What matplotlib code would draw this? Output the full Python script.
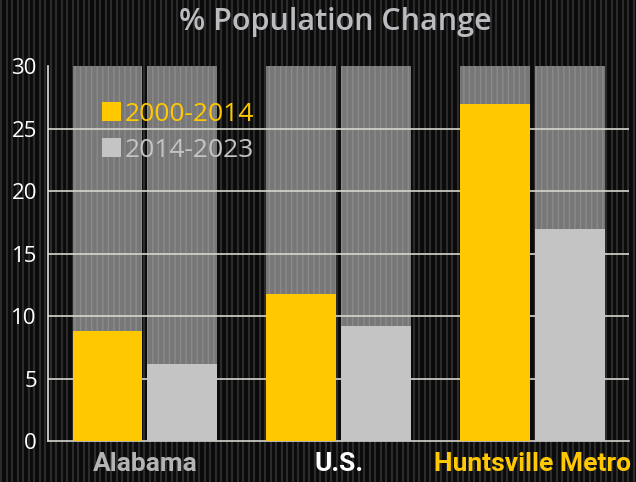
import numpy as np
import matplotlib.pyplot as plt

# data
regions = ['Alabama', 'U.S.', 'Huntsville Metro']
growth_2000_2014 = [8.8, 11.8, 27.0]
growth_2014_2023 = [6.2, 9.2, 17.0]
series_labels = ['2000-2014', '2014-2023']
y_ticks = [0, 5, 10, 15, 20, 25, 30]
y_max = 30

yellow = '#ffc800'
light = '#c4c4c4'
label_colors = ['#b4b4b4', '#ffffff', yellow]

fig = plt.figure(figsize=(6.36, 4.82), dpi=100)
fig.patch.set_facecolor('#0a0a0a')

# striped backdrop
bg = fig.add_axes([0, 0, 1, 1], zorder=-10)
bg.set_xlim(0, 636)
bg.set_ylim(0, 482)
bg.vlines(np.arange(1, 636, 5.5), 0, 482, color='#2b2b2b', lw=1.6)
bg.axis('off')

ax = fig.add_axes([0.0755, 0.085, 0.914, 0.778])
ax.set_facecolor('none')

x = np.arange(len(regions))
w = 0.36
off = 0.193

# grey "full scale" columns behind each bar
for dx in (-off, off):
    ax.bar(x + dx, [y_max] * len(x), w, color='#777777', hatch='|||',
           edgecolor='#8a8a8a', linewidth=0, zorder=1)

for yv in y_ticks[1:-1]:
    ax.axhline(yv, color='#d6d6d0', lw=1.2, zorder=2)

ax.bar(x - off, growth_2000_2014, w, color=yellow, zorder=3, label=series_labels[0])
ax.bar(x + off, growth_2014_2023, w, color=light, zorder=3, label=series_labels[1])

ax.set_xlim(-0.5, 2.5)
ax.set_ylim(0, y_max)
ax.set_yticks(y_ticks)
ax.set_yticklabels([str(t) for t in y_ticks], color='white', fontsize=16,
                   family=['Open Sans', 'DejaVu Sans'])
ax.tick_params(axis='y', length=0, pad=8)
ax.set_xticks(x)
ax.set_xticklabels(regions, fontsize=19, fontweight='bold',
                   family=['Roboto', 'DejaVu Sans'])
for lbl, c in zip(ax.get_xticklabels(), label_colors):
    lbl.set_color(c)
ax.tick_params(axis='x', length=0, pad=8)

for s in ['top', 'right']:
    ax.spines[s].set_visible(False)
ax.spines['left'].set_color('#e0e0e0')
ax.spines['bottom'].set_color('#d6d6d0')
ax.spines['left'].set_linewidth(1.2)
ax.spines['bottom'].set_linewidth(1.2)

leg = ax.legend(loc='upper left', bbox_to_anchor=(0.093, 0.905), frameon=False,
                borderpad=0, borderaxespad=0, handlelength=0.72, handleheight=0.72,
                handletextpad=0.15, labelspacing=0.42,
                prop={'family': ['Open Sans', 'DejaVu Sans'], 'size': 19})
for t, c in zip(leg.get_texts(), [yellow, light]):
    t.set_color(c)

fig.text(0.528, 0.955, '% Population Change', ha='center', va='center',
         color='#bcbcc0', fontsize=22, fontweight='semibold',
         family=['Open Sans', 'DejaVu Sans'])

fig.savefig('out.png', dpi=100, facecolor=fig.get_facecolor())
